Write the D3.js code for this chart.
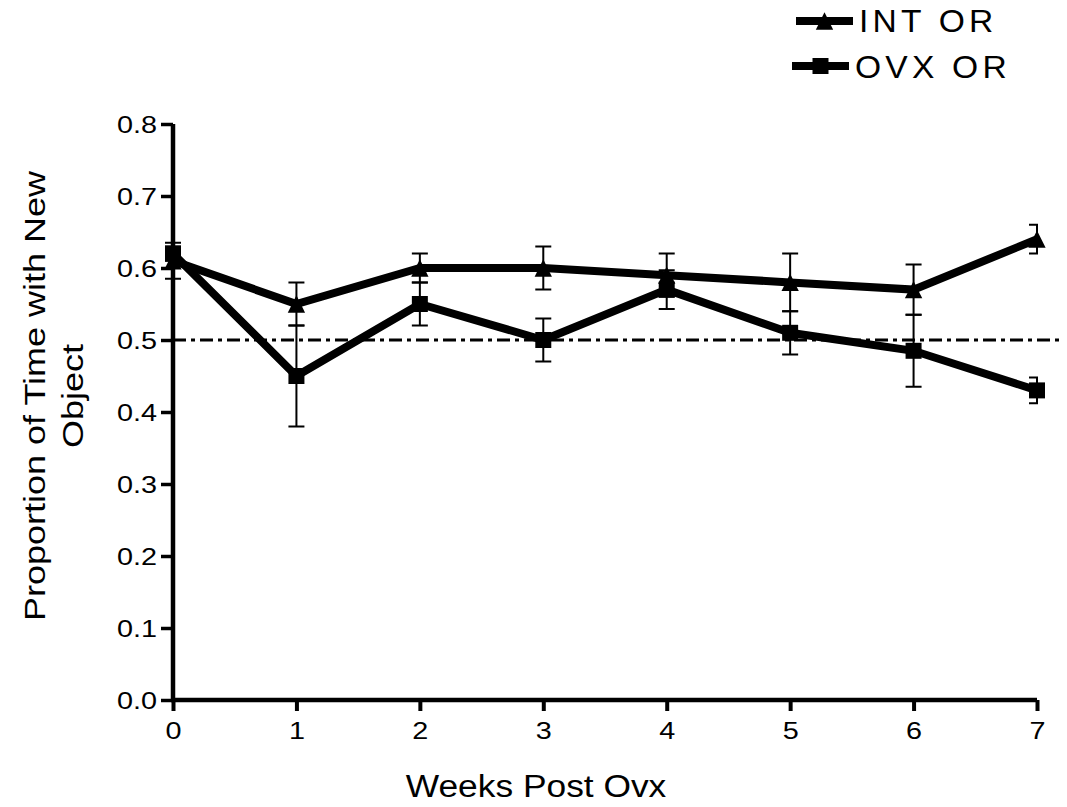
<!DOCTYPE html>
<html>
<head>
<meta charset="utf-8">
<script src="https://cdn.jsdelivr.net/npm/d3@7"></script>
<style>
  body { margin: 0; background: #fff; }
  text { font-family: "Liberation Sans", Arial, sans-serif; fill: #000; }
</style>
</head>
<body>
<div id="graph"></div>
<script>

/// Data
var weeks = [0, 1, 2, 3, 4, 5, 6, 7];
var intMean = [0.61, 0.55, 0.60, 0.60, 0.59, 0.58, 0.57, 0.64];
var intErr = [0.025, 0.03, 0.02, 0.03, 0.03, 0.04, 0.035, 0.02];
var ovxMean = [0.62, 0.45, 0.55, 0.50, 0.57, 0.51, 0.485, 0.43];
var ovxErr = [0.01, 0.07, 0.03, 0.03, 0.027, 0.03, 0.05, 0.018];
var yTicks = [0, 0.1, 0.2, 0.3, 0.4, 0.5, 0.6, 0.7, 0.8];
var chance = 0.5;
var legendNames = ["INT OR", "OVX OR"];

//Geometry
var width = 1067;
var height = 807;

var xScale = d3.scaleLinear().domain([0, 7]).range([173, 1037]);
var yScale = d3.scaleLinear().domain([0, 0.8]).range([700, 124]);

var svg = d3.select("#graph")
  .append("svg")
  .attr("width", width)
  .attr("height", height);

// text in the picture is a bit wider than plain Arial
var stretch = 1.2;

// axes
var yAxis = svg.append("g")
  .attr("transform", "translate(" + xScale(0) + ",0)")
  .call(d3.axisLeft(yScale).tickValues(yTicks).tickSize(12).tickSizeOuter(0)
    .tickFormat(d3.format(".1f")));
yAxis.select(".domain").attr("stroke-width", 4.5).attr("d", "M0," + yScale(0.8) + "V" + (yScale(0) + 2));
yAxis.selectAll(".tick line").attr("stroke-width", 3.5);
yAxis.selectAll(".tick text")
  .attr("font-size", 24)
  .attr("x", -16 / stretch)
  .attr("dy", "0.36em")
  .attr("transform", "scale(" + stretch + ",1)");

var xAxis = svg.append("g")
  .attr("transform", "translate(0," + yScale(0) + ")")
  .call(d3.axisBottom(xScale).tickValues(weeks).tickSize(11).tickSizeOuter(0)
    .tickFormat(d3.format("d")));
xAxis.select(".domain").attr("stroke-width", 4.5).attr("d", "M" + (xScale(0) - 2) + ",0H" + xScale(7));
xAxis.selectAll(".tick line").attr("stroke-width", 4);
xAxis.selectAll(".tick text")
  .attr("font-size", 24)
  .attr("y", 39.5)
  .attr("dy", 0)
  .attr("transform", "scale(" + stretch + ",1)");
xAxis.selectAll("text").style("font-family", "Liberation Sans, Arial, sans-serif");
yAxis.selectAll("text").style("font-family", "Liberation Sans, Arial, sans-serif");

// chance line
svg.append("line")
  .attr("x1", xScale(0))
  .attr("x2", 1062)
  .attr("y1", yScale(chance))
  .attr("y2", yScale(chance))
  .attr("stroke", "#000")
  .attr("stroke-width", 3)
  .attr("stroke-dasharray", "13,5,4,5");

// error bars are clipped at the last week
svg.append("defs").append("clipPath")
  .attr("id", "clip")
  .append("rect")
  .attr("x", 0)
  .attr("y", 0)
  .attr("width", xScale(7) + 1)
  .attr("height", height);

// GraphPad style triangle, 16 wide and 16 tall
var triangle = { draw: function (ctx, size) {
  var h = Math.sqrt(size) / 2;
  ctx.moveTo(0, -h);
  ctx.lineTo(h, h);
  ctx.lineTo(-h, h);
  ctx.closePath();
} };

var series = [
  { name: legendNames[0], mean: intMean, err: intErr, shape: triangle, size: 300 },
  { name: legendNames[1], mean: ovxMean, err: ovxErr, shape: d3.symbolSquare, size: 256 }
];

var line = d3.line()
  .x(function (d, i) { return xScale(weeks[i]); })
  .y(function (d) { return yScale(d); });

series.forEach(function (s) {
  var bars = svg.append("g").attr("clip-path", "url(#clip)");
  weeks.forEach(function (w, i) {
    var x = xScale(w);
    var top = yScale(s.mean[i] + s.err[i]);
    var bot = yScale(s.mean[i] - s.err[i]);
    bars.append("path")
      .attr("d", "M" + x + "," + top + "V" + bot +
        "M" + (x - 8) + "," + top + "H" + (x + 8) +
        "M" + (x - 8) + "," + bot + "H" + (x + 8))
      .attr("fill", "none")
      .attr("stroke", "#000")
      .attr("stroke-width", 2);
  });

  svg.append("path")
    .datum(s.mean)
    .attr("fill", "none")
    .attr("stroke", "#000")
    .attr("stroke-width", 8)
    .attr("d", line);

  svg.append("g").selectAll("path")
    .data(s.mean)
    .join("path")
    .attr("transform", function (d, i) {
      return "translate(" + xScale(weeks[i]) + "," + yScale(d) + ")";
    })
    .attr("d", d3.symbol().type(s.shape).size(s.size))
    .attr("fill", "#000");
});

// legend
var legendRows = [
  { x1: 796, x2: 853, y: 21, tx: 859, ty: 32 },
  { x1: 792, x2: 849, y: 66, tx: 855, ty: 78 }
];
series.forEach(function (s, i) {
  var r = legendRows[i];
  svg.append("line")
    .attr("x1", r.x1).attr("x2", r.x2)
    .attr("y1", r.y).attr("y2", r.y)
    .attr("stroke", "#000")
    .attr("stroke-width", 8);
  svg.append("path")
    .attr("transform", "translate(" + ((r.x1 + r.x2) / 2) + "," + r.y + ")")
    .attr("d", d3.symbol().type(s.shape).size(s.size))
    .attr("fill", "#000");
  svg.append("text")
    .attr("transform", "translate(" + r.tx + "," + r.ty + ") scale(1.05,1)")
    .attr("font-size", 32)
    .attr("letter-spacing", 4)
    .text(s.name);
});

// axis titles
svg.append("text")
  .attr("transform", "translate(536,797) scale(1.14,1)")
  .attr("text-anchor", "middle")
  .attr("font-size", 31)
  .text("Weeks Post Ovx");

svg.append("text")
  .attr("transform", "translate(45,396) rotate(-90) scale(1.2,1)")
  .attr("text-anchor", "middle")
  .attr("font-size", 30)
  .text("Proportion of Time with New");
svg.append("text")
  .attr("transform", "translate(83,396) rotate(-90) scale(1.2,1)")
  .attr("text-anchor", "middle")
  .attr("font-size", 30)
  .text("Object");

</script>
</body>
</html>
